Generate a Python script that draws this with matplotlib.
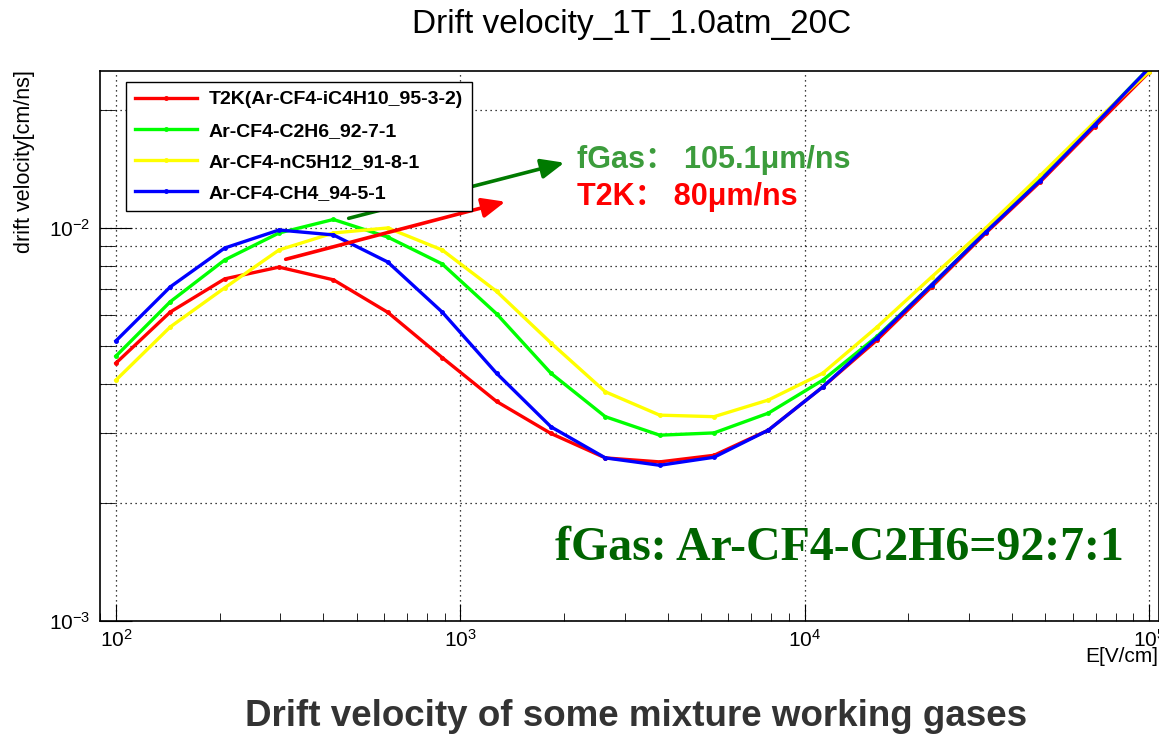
import numpy as np
import matplotlib
matplotlib.use("Agg")
import matplotlib.pyplot as plt

plt.rcParams['font.family'] = ['Liberation Sans', 'Noto Sans CJK SC', 'DejaVu Sans']

# E field points [V/cm]
efield = [100, 143.8, 206.9, 297.6, 428.1, 615.8, 885.9, 1274, 1833, 2637,
          3793, 5456, 7848, 11288, 16238, 23357, 33598, 48329, 69519, 100000]

# drift velocity [cm/ns]
v_t2k = [4.53e-3, 6.11e-3, 7.42e-3, 7.95e-3, 7.38e-3, 6.10e-3, 4.68e-3, 3.62e-3, 3.00e-3, 2.60e-3,
         2.54e-3, 2.64e-3, 3.06e-3, 3.94e-3, 5.19e-3, 7.08e-3, 9.71e-3, 1.31e-2, 1.81e-2, 2.49e-2]
v_c2h6 = [4.72e-3, 6.49e-3, 8.29e-3, 9.71e-3, 1.051e-2, 9.48e-3, 8.10e-3, 6.05e-3, 4.27e-3, 3.31e-3,
          2.97e-3, 3.01e-3, 3.38e-3, 4.10e-3, 5.30e-3, 7.16e-3, 9.80e-3, 1.33e-2, 1.84e-2, 2.55e-2]
v_nc5h12 = [4.10e-3, 5.60e-3, 7.04e-3, 8.79e-3, 9.71e-3, 1.00e-2, 8.79e-3, 6.90e-3, 5.10e-3, 3.83e-3,
            3.34e-3, 3.31e-3, 3.65e-3, 4.27e-3, 5.60e-3, 7.50e-3, 1.00e-2, 1.36e-2, 1.86e-2, 2.50e-2]
v_ch4 = [5.16e-3, 7.08e-3, 8.89e-3, 9.88e-3, 9.60e-3, 8.19e-3, 6.11e-3, 4.27e-3, 3.12e-3, 2.60e-3,
         2.49e-3, 2.61e-3, 3.06e-3, 3.94e-3, 5.26e-3, 7.16e-3, 9.77e-3, 1.32e-2, 1.83e-2, 2.55e-2]

labels = ["T2K(Ar-CF4-iC4H10_95-3-2)", "Ar-CF4-C2H6_92-7-1",
          "Ar-CF4-nC5H12_91-8-1", "Ar-CF4-CH4_94-5-1"]
colors = ["#ff0000", "#00ff00", "#ffff00", "#0000ff"]

W, H = 1159, 737
fig = plt.figure(figsize=(W/100, H/100), dpi=100)

def fx(px):
    return px/W

def fy(py):
    return 1 - py/H

ax = fig.add_axes([fx(100), fy(621), fx(1159) - fx(100), fy(71) - fy(621)])

for vals, lab, col in zip([v_t2k, v_c2h6, v_nc5h12, v_ch4], labels, colors):
    ax.plot(efield, vals, color=col, lw=2.4, marker='o', ms=2.5, label=lab)

ax.set_xscale('log')
ax.set_yscale('log')
ax.set_xlim(89.9, 1.069e5)
ax.set_ylim(1e-3, 0.02508)

ax.grid(True, which='major', axis='x', color='black', linestyle=(0, (1, 3)), lw=0.9)
ax.grid(True, which='both', axis='y', color='black', linestyle=(0, (1, 3)), lw=0.9)
ax.tick_params(which='both', direction='in', top=False, right=False, labelsize=15)
ax.tick_params(axis='x', which='major', length=12, pad=6)
ax.tick_params(axis='x', which='minor', length=6)
ax.tick_params(axis='y', which='major', length=23, pad=7)
ax.tick_params(axis='y', which='minor', length=11)
ax.yaxis.set_minor_formatter(matplotlib.ticker.NullFormatter())
ax.xaxis.set_minor_formatter(matplotlib.ticker.NullFormatter())
for s in ax.spines.values():
    s.set_linewidth(1.2)

leg = ax.legend(loc='upper left', bbox_to_anchor=((126-100)/1059, (621-82)/550),
                borderaxespad=0, fancybox=False, edgecolor='black', framealpha=1,
                prop={'weight': 'bold', 'size': 14}, handlelength=3.2,
                handletextpad=0.6, labelspacing=0.7, numpoints=1, borderpad=0.45)
leg.get_frame().set_linewidth(1.0)

# arrows
ax.annotate("", xy=(fx(567), fy(162)), xytext=(fx(346), fy(219)), xycoords='figure fraction',
            textcoords='figure fraction',
            arrowprops=dict(arrowstyle='-|>,head_length=1.4,head_width=0.6', color='#007a00', lw=2.6))
ax.annotate("", xy=(fx(508), fy(201)), xytext=(fx(283), fy(260)), xycoords='figure fraction',
            textcoords='figure fraction',
            arrowprops=dict(arrowstyle='-|>,head_length=1.4,head_width=0.6', color='#ff0000', lw=2.6))

fig.text(fx(577), fy(160), "fGas： 105.1μm/ns", color='#3c9c3c', fontsize=22, fontweight='bold',
         ha='left', va='center')
fig.text(fx(577), fy(197), "T2K： 80μm/ns", color='#ff0000', fontsize=22, fontweight='bold',
         ha='left', va='center')
fig.text(fx(555), fy(548), "fGas: Ar-CF4-C2H6=92:7:1", color='#006400', fontsize=34.5,
         fontweight='bold', family='Liberation Serif', ha='left', va='center')

fig.text(fx(632), fy(25), "Drift velocity_1T_1.0atm_20C", fontsize=24, ha='center', va='center')
fig.text(fx(25), fy(70), "drift velocity[cm/ns]", fontsize=15.5, rotation=90, ha='center', va='top')
fig.text(fx(1158), fy(657), "E[V/cm]", fontsize=15, ha='right', va='center')
fig.text(fx(636), fy(717), "Drift velocity of some mixture working gases", fontsize=26.5,
         fontweight='bold', color='#333333', ha='center', va='center')

fig.savefig("out.png", dpi=100)
